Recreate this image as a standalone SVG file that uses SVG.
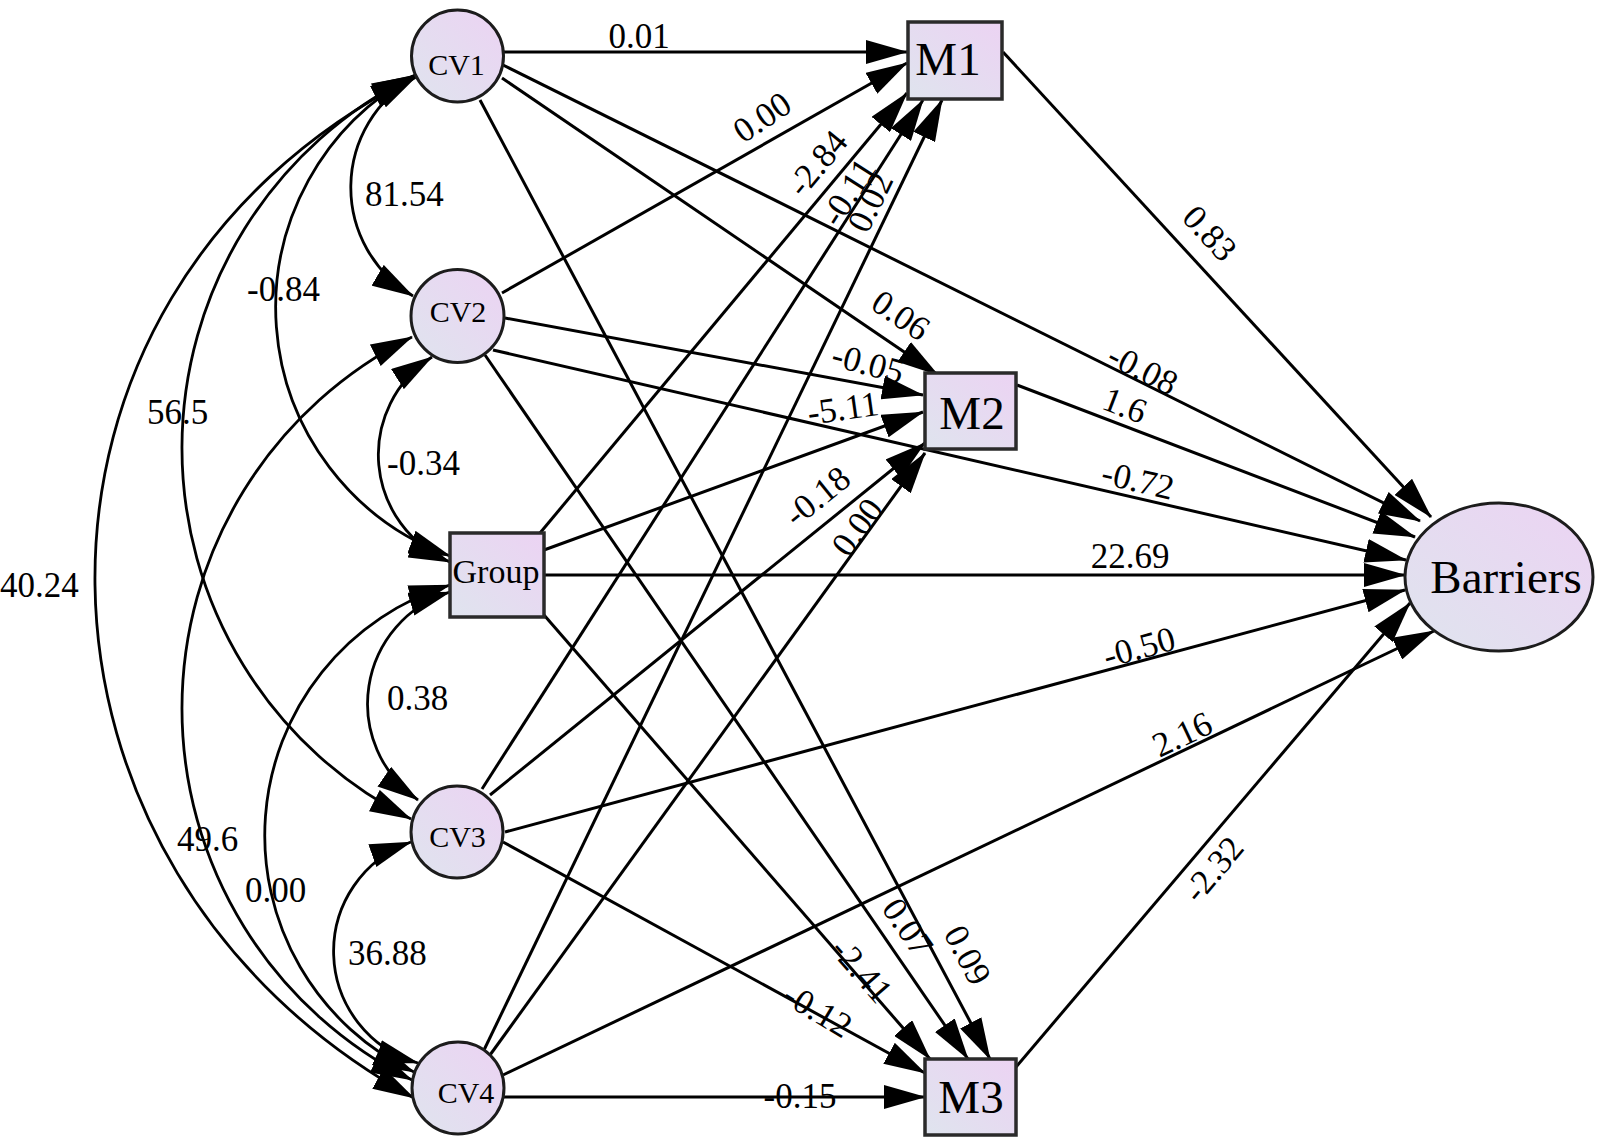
<svg xmlns="http://www.w3.org/2000/svg" width="1601" height="1141" viewBox="0 0 1601 1141">
<defs>
<linearGradient id="nf" x1="0" y1="1" x2="1" y2="0">
<stop offset="0" stop-color="#dfe4ee"/>
<stop offset="1" stop-color="#ecd3f3"/>
</linearGradient>
<marker id="ah" viewBox="0 0 42 24" refX="41" refY="12" markerWidth="42" markerHeight="24" markerUnits="userSpaceOnUse" orient="auto-start-reverse">
<path d="M0,0 L42,12 L0,24 z" fill="#000"/>
</marker>
<style>
.node{fill:url(#nf);stroke:#1c1c1c;stroke-width:3}
.box{fill:url(#nf);stroke:#2a2a2a;stroke-width:3.5}
.e{fill:none;stroke:#000;stroke-width:3;marker-end:url(#ah)}
.c{fill:none;stroke:#000;stroke-width:2.8;marker-start:url(#ah);marker-end:url(#ah)}
text{font-family:"Liberation Serif","Times New Roman",serif;fill:#000}
.lbl{font-size:35px}
.r{font-size:35px;text-anchor:middle}
.cv{font-size:30px;text-anchor:middle}
.m{font-size:47px;text-anchor:middle}
</style>
</defs>
<rect width="1601" height="1141" fill="#fff"/>
<g id="connectors">
<path class="c" d="M416 77 A126 126 0 0 0 413 296"/>
<path class="c" d="M415 75 A264 264 0 0 0 450 556"/>
<path class="c" d="M413 76 A415 415 0 0 0 411 819"/>
<path class="c" d="M412 78 C-20 298 -2 870 414 1098"/>
<path class="c" d="M432 357 A116 116 0 0 0 450 562"/>
<path class="c" d="M412 337 A415 415 0 0 0 412 1080"/>
<path class="c" d="M450 592 A117 117 0 0 0 418 800"/>
<path class="c" d="M450 585 A262 262 0 0 0 414 1072"/>
<path class="c" d="M411 842 A116 116 0 0 0 418 1063"/>
<path class="e" d="M504 52 L907 52"/>
<path class="e" d="M502 78 L938 375"/>
<path class="e" d="M480 100 L990 1059"/>
<path class="e" d="M503 65 L1420 521"/>
<path class="e" d="M502 293 L907 63"/>
<path class="e" d="M505 318 L923 395"/>
<path class="e" d="M485 355 L968 1059"/>
<path class="e" d="M493 350 L1406 560"/>
<path class="e" d="M540 533 L907 93"/>
<path class="e" d="M544 550 L923 412"/>
<path class="e" d="M544 615 L930 1059"/>
<path class="e" d="M544 575 L1405 575"/>
<path class="e" d="M482 789 L923 100"/>
<path class="e" d="M490 795 L925 443"/>
<path class="e" d="M503 842 L925 1073"/>
<path class="e" d="M505 832 L1405 590"/>
<path class="e" d="M484 1050 L942 100"/>
<path class="e" d="M490 1055 L925 453"/>
<path class="e" d="M503 1097 L925 1097"/>
<path class="e" d="M503 1075 L1434 631"/>
<path class="e" d="M1003 52 L1431 517"/>
<path class="e" d="M1017 385 L1415 537"/>
<path class="e" d="M1016 1067 L1410 603"/>
</g>
<g id="labels">
<text class="lbl" x="365" y="206">81.54</text>
<text class="lbl" x="247" y="301">-0.84</text>
<text class="lbl" x="147" y="424">56.5</text>
<text class="lbl" x="387" y="475">-0.34</text>
<text class="lbl" x="0" y="597">40.24</text>
<text class="lbl" x="177" y="851">49.6</text>
<text class="lbl" x="245" y="902">0.00</text>
<text class="lbl" x="387" y="710">0.38</text>
<text class="lbl" x="348" y="965">36.88</text>
<text class="r" x="639" y="48">0.01</text>
<text class="r" x="1130" y="568">22.69</text>
<text class="r" x="800" y="1108">-0.15</text>
<text class="r" transform="translate(901 315) rotate(34.3)" y="12">0.06</text>
<text class="r" transform="translate(968 955) rotate(62)" y="12">0.09</text>
<text class="r" transform="translate(1143 369) rotate(27)" y="12">-0.08</text>
<text class="r" transform="translate(762 117) rotate(-34)" y="12">0.00</text>
<text class="r" transform="translate(868 363) rotate(15)" y="12">-0.05</text>
<text class="r" transform="translate(908 927) rotate(55.5)" y="12">0.07</text>
<text class="r" transform="translate(1138 480) rotate(13)" y="12">-0.72</text>
<text class="r" transform="translate(817 163) rotate(-50.2)" y="12">-2.84</text>
<text class="r" transform="translate(843 408) rotate(-8)" y="12">-5.11</text>
<text class="r" transform="translate(862 970) rotate(48.9)" y="12">-2.41</text>
<text class="r" transform="translate(848 192) rotate(-57.4)" y="12">-0.11</text>
<text class="r" transform="translate(817 496) rotate(-39)" y="12">-0.18</text>
<text class="r" transform="translate(818 1010) rotate(31)" y="12">-0.12</text>
<text class="r" transform="translate(1139 647) rotate(-15.2)" y="12">-0.50</text>
<text class="r" transform="translate(870 202) rotate(-64.3)" y="12">0.02</text>
<text class="r" transform="translate(857 527) rotate(-54.1)" y="12">0.00</text>
<text class="r" transform="translate(1182 734) rotate(-25.4)" y="12">2.16</text>
<text class="r" transform="translate(1210 233) rotate(47.3)" y="12">0.83</text>
<text class="r" transform="translate(1125 405) rotate(21)" y="12">1.6</text>
<text class="r" transform="translate(1213 869) rotate(-50)" y="12">-2.32</text>
</g>
<g id="CV1"><circle class="node" cx="457.5" cy="56" r="46"/><text class="cv" x="456.5" y="75">CV1</text></g>
<g id="CV2"><circle class="node" cx="457.5" cy="316" r="46.5"/><text class="cv" x="458" y="322">CV2</text></g>
<g id="Group"><rect class="box" x="450" y="533" width="94" height="84"/><text x="496" y="583" style="font-size:34px;text-anchor:middle">Group</text></g>
<g id="CV3"><circle class="node" cx="457" cy="832" r="46"/><text class="cv" x="457.5" y="847">CV3</text></g>
<g id="CV4"><circle class="node" cx="458" cy="1088" r="46"/><text class="cv" x="466" y="1103">CV4</text></g>
<g id="M1"><rect class="box" x="908" y="22" width="94" height="77"/><text class="m" x="948" y="75">M1</text></g>
<g id="M2"><rect class="box" x="925" y="373" width="91" height="76"/><text class="m" x="972" y="429">M2</text></g>
<g id="M3"><rect class="box" x="925" y="1059" width="91" height="76"/><text class="m" x="971" y="1113">M3</text></g>
<g id="Barriers"><ellipse class="node" cx="1499" cy="577" rx="94" ry="74"/><text x="1506" y="593" style="font-size:47px;text-anchor:middle">Barriers</text></g>
</svg>
